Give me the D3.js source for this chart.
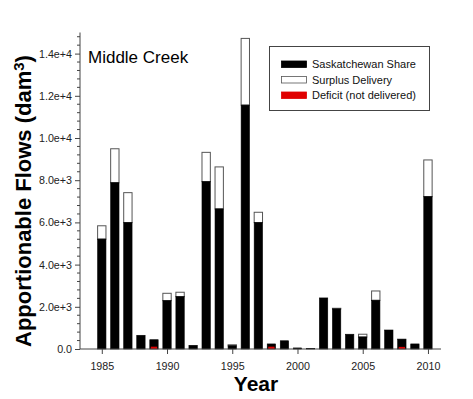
<!DOCTYPE html>
<html>
<head>
<meta charset="utf-8">
<script src="https://cdn.jsdelivr.net/npm/d3@7"></script>
<style>
  body { margin: 0; background: #fff; }
  svg text { font-family: Arial, "Liberation Sans", sans-serif; }
</style>
</head>
<body>
<div id="vis"></div>
<script>
// values (dam3)
var years = d3.range(1985, 2011);
var share = [5210, 7880, 5990, 650, 440, 2290, 2480, 175, 7930, 6640, 150, 11560, 5990,
             240, 390, 50, 20, 2420, 1900, 700, 570, 2310, 900, 470, 240, 7220];
var surplus = [630, 1610, 1420, 0, 0, 350, 210, 0, 1390, 1990, 50, 3160, 490,
               0, 0, 0, 0, 0, 30, 0, 130, 440, 0, 0, 0, 1740];
var deficit = [0, 0, 0, 0, 110, 0, 0, 0, 0, 0, 0, 0, 0,
               110, 0, 0, 0, 0, 0, 0, 0, 0, 0, 100, 0, 0];
var yTicks = [0, 2000, 4000, 6000, 8000, 10000, 12000, 14000];
var xTicks = [1985, 1990, 1995, 2000, 2005, 2010];
var legendLabels = ["Saskatchewan Share", "Surplus Delivery", "Deficit (not delivered)"];
var legendColors = ["#000", "#fff", "#e00000"];

var width = 473, height = 399;
var barW = 0.64;

var svg = d3.select("#vis").append("svg")
    .attr("width", width)
    .attr("height", height);

var x = d3.scaleLinear().domain([1983.33, 2011]).range([80, 441]);
var y = d3.scaleLinear().domain([0, 15000]).range([349, 32.5]);

var data = years.map(function(yr, i) {
  return {year: yr, share: share[i], surplus: surplus[i], deficit: deficit[i]};
});

// surplus on top of share
svg.append("g").selectAll("rect.surplus")
    .data(data.filter(function(d) { return d.surplus > 0; }))
  .enter().append("rect")
    .attr("x", function(d) { return x(d.year - barW / 2); })
    .attr("width", x(barW) - x(0))
    .attr("y", function(d) { return y(d.share + d.surplus); })
    .attr("height", function(d) { return y(d.share) - y(d.share + d.surplus); })
    .style("fill", "#fff")
    .style("stroke", "#555")
    .style("stroke-width", 1);

svg.append("g").selectAll("rect.share")
    .data(data)
  .enter().append("rect")
    .attr("x", function(d) { return x(d.year - barW / 2); })
    .attr("width", x(barW) - x(0))
    .attr("y", function(d) { return y(d.share); })
    .attr("height", function(d) { return y(0) - y(d.share); })
    .style("fill", "#000")
    .style("stroke", "#000")
    .style("stroke-width", 0.6);

svg.append("g").selectAll("rect.deficit")
    .data(data.filter(function(d) { return d.deficit > 0; }))
  .enter().append("rect")
    .attr("x", function(d) { return x(d.year - barW / 2) + 1; })
    .attr("width", x(barW) - x(0) - 2)
    .attr("y", function(d) { return y(d.deficit); })
    .attr("height", function(d) { return y(0) - y(d.deficit); })
    .style("fill", "#e00000");

// axes
var fmt = d3.format(".1e");
var yAxis = d3.axisLeft(y)
    .tickValues(yTicks)
    .tickSize(5)
    .tickPadding(3)
    .tickFormat(function(d) { return d === 0 ? "0.0" : fmt(d); });

var gy = svg.append("g")
    .attr("transform", "translate(80,0)")
    .call(yAxis);

// minor ticks every 400
gy.selectAll(".minor")
    .data(d3.range(400, 15000, 400).filter(function(v) { return v % 2000 !== 0; }))
  .enter().append("line")
    .attr("class", "minor")
    .attr("x1", -3).attr("x2", 0)
    .attr("y1", function(d) { return y(d); })
    .attr("y2", function(d) { return y(d); })
    .style("stroke", "#444");

var gx = svg.append("g")
    .attr("transform", "translate(0,349)")
    .call(d3.axisBottom(x)
      .tickValues(xTicks)
      .tickSize(5)
      .tickPadding(8)
      .tickFormat(d3.format("d")));

[gx, gy].forEach(function(g) {
  g.select(".domain").style("stroke", "#444");
  g.selectAll(".tick line").style("stroke", "#444");
  g.selectAll("text")
    .style("font-size", "10.7px")
    .style("fill", "#222")
    .style("font-family", "Arial, 'Liberation Sans', sans-serif");
});
gy.select(".domain").attr("d", "M0," + y(15000) + "V" + y(0));
gx.select(".domain").attr("d", "M80,0H441");

// titles
svg.append("text")
    .attr("x", 256)
    .attr("y", 391)
    .attr("text-anchor", "middle")
    .style("font-size", "21px")
    .style("font-weight", "bold")
    .text("Year");

var yl = svg.append("text")
    .attr("transform", "translate(31,201) rotate(-90)")
    .attr("text-anchor", "middle")
    .style("font-size", "22px")
    .style("font-weight", "bold");
yl.append("tspan").text("Apportionable Flows (dam");
yl.append("tspan").attr("dy", "-0.45em").style("font-size", "15px").text("3");
yl.append("tspan").attr("dy", "0.3em").text(")");

svg.append("text")
    .attr("x", 88)
    .attr("y", 63)
    .style("font-size", "17px")
    .text("Middle Creek");

// legend
var lg = svg.append("g");
lg.append("rect")
    .attr("x", 269.5).attr("y", 46.5)
    .attr("width", 160).attr("height", 64)
    .style("fill", "#fff")
    .style("stroke", "#444");

var rows = lg.selectAll("g.row")
    .data(legendLabels)
  .enter().append("g")
    .attr("transform", function(d, i) { return "translate(281," + (64 + i * 15.5) + ")"; });

rows.append("rect")
    .attr("x", 0.5).attr("y", -3)
    .attr("width", 25).attr("height", 6.5)
    .style("fill", function(d, i) { return legendColors[i]; })
    .style("stroke", function(d, i) { return i === 1 ? "#555" : legendColors[i]; })
    .style("stroke-width", 0.8);

rows.append("text")
    .attr("x", 31)
    .attr("y", 4)
    .style("font-size", "11px")
    .style("fill", "#111")
    .text(function(d) { return d; });
</script>
</body>
</html>
